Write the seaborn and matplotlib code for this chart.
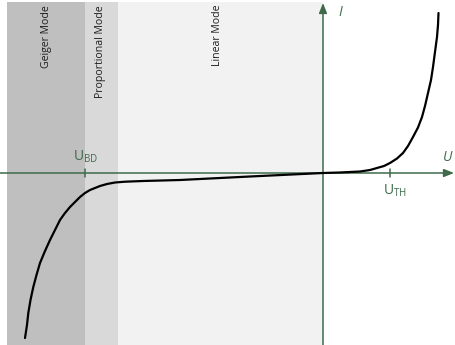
import numpy as np
import pandas as pd
import matplotlib
matplotlib.use("Agg")
import matplotlib.pyplot as plt
import seaborn as sns

sns.set_theme(style="white")
plt.rcParams["font.family"] = ["Open Sans", "DejaVu Sans"]

# I-U characteristic of an avalanche photodiode (arbitrary units)
U = [-2.98, -2.96, -2.947, -2.925, -2.897, -2.865, -2.83, -2.78, -2.73, -2.68,
     -2.63, -2.58, -2.53, -2.48, -2.43, -2.38, -2.33, -2.28, -2.23, -2.16,
     -2.08, -1.98, -1.80, -1.43, -0.73, 0.00, 0.17, 0.37, 0.47, 0.54,
     0.61, 0.67, 0.74, 0.80, 0.85, 0.90, 0.95, 0.99, 1.02, 1.05,
     1.08, 1.10, 1.12, 1.14, 1.15, 1.155]
I = [-1.65, -1.52, -1.40, -1.27, -1.14, -1.02, -0.90, -0.78, -0.67, -0.57,
     -0.47, -0.40, -0.34, -0.29, -0.24, -0.20, -0.17, -0.15, -0.13, -0.11,
     -0.095, -0.087, -0.08, -0.07, -0.035, 0.00, 0.005, 0.015, 0.03, 0.05,
     0.07, 0.10, 0.145, 0.20, 0.27, 0.36, 0.455, 0.56, 0.67, 0.80,
     0.93, 1.06, 1.21, 1.36, 1.48, 1.60]

# operating regions: name, left edge, right edge, fill
mode_names = ["Geiger Mode", "Proportional Mode", "Linear Mode"]
mode_left = [-3.16, -2.38, -2.05]
mode_right = [-2.38, -2.05, 0.0]
mode_colors = ["#bfbfbf", "#d9d9d9", "#f2f2f2"]
mode_label_x = [-2.76, -2.23, -1.05]

U_BD = -2.38
U_TH = 0.67

axis_green = "#3f6b4a"

fig = plt.figure(figsize=(4.55, 3.45), dpi=100)
ax = fig.add_axes([0, 0, 1, 1])
ax.set_xlim(-3.23, 1.32)
ax.set_ylim(-1.72, 1.73)
ax.axis("off")

for name, l, r, c, lx in zip(mode_names, mode_left, mode_right, mode_colors, mode_label_x):
    ax.axvspan(l, r, ymin=0.0, ymax=0.994, color=c, lw=0, zorder=0)
    ax.text(lx, 1.68, name, rotation=90, ha="center", va="top",
            fontsize=7.6, color="#1e1e1e", zorder=3)

# coordinate axes with arrow heads
ax.annotate("", xy=(1.31, 0), xytext=(-3.23, 0),
            arrowprops=dict(arrowstyle="-|>,head_length=0.5,head_width=0.2",
                            color=axis_green, lw=1.1, shrinkA=0, shrinkB=0), zorder=2)
ax.annotate("", xy=(0, 1.70), xytext=(0, -1.72),
            arrowprops=dict(arrowstyle="-|>,head_length=0.5,head_width=0.2",
                            color=axis_green, lw=1.1, shrinkA=0, shrinkB=0), zorder=2)

for xv in (U_BD, U_TH):
    ax.plot([xv, xv], [-0.04, 0.04], color=axis_green, lw=1.1, zorder=2)

ax.text(U_BD + 0.01, 0.08, r"$\mathregular{U_{BD}}$", ha="center", va="bottom",
        fontsize=10, color=axis_green)
ax.text(U_TH + 0.05, -0.1, r"$\mathregular{U_{TH}}$", ha="center", va="top",
        fontsize=10, color=axis_green)
ax.text(1.25, 0.08, "U", style="italic", ha="center", va="bottom",
        fontsize=10, color=axis_green)
ax.text(0.17, 1.60, "I", style="italic", ha="center", va="center",
        fontsize=10, color=axis_green)

df = pd.DataFrame({"U": U, "I": I})
sns.lineplot(data=df, x="U", y="I", ax=ax, color="black", lw=1.6,
             estimator=None, sort=False, zorder=4)
ax.set_xlabel("")
ax.set_ylabel("")

fig.savefig("out.png", dpi=100)
